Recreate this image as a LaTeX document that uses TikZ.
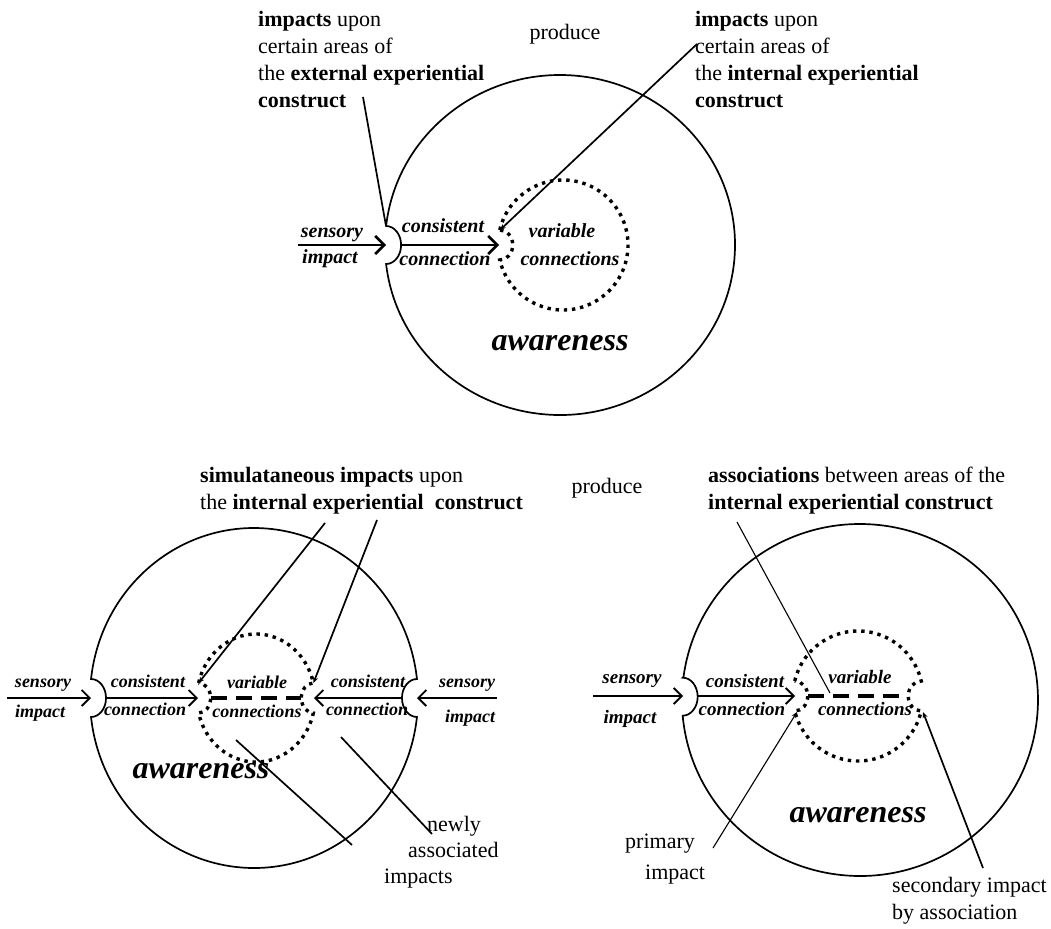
\documentclass[tikz,border=0pt]{standalone}
\usepackage{fontspec}
\setmainfont{Liberation Serif}
\usetikzlibrary{arrows.meta}
\begin{document}
\begin{tikzpicture}[x=1pt,y=-1pt,
  ring/.style={line width=1.7pt},
  dotring/.style={line width=3.4pt, dash pattern=on 3.4pt off 4.8pt},
  dashlink/.style={line width=4pt, dash pattern=on 16pt off 9pt},
  bigarrow/.style={line width=2.6pt, -{Straight Barb[length=9pt,width=18pt]}},
  smallarrow/.style={line width=1.8pt, -{Straight Barb[length=8pt,width=16pt]}},
  lead/.style={line width=1.7pt},
  thinlead/.style={line width=1.1pt},
  leadtip/.style={-{Stealth[length=6pt,width=5pt]}},
  lbl/.style={font=\fontsize{22}{27}\selectfont, align=left, anchor=base west, inner sep=0pt},
  plain/.style={font=\fontsize{22}{27}\selectfont, anchor=base, inner sep=0pt},
  wordA/.style={font=\fontsize{20}{24}\selectfont\bfseries\itshape, anchor=base, inner sep=0pt},
  wordB/.style={font=\fontsize{18}{22}\selectfont\bfseries\itshape, anchor=base, inner sep=0pt},
  wordC/.style={font=\fontsize{19}{23}\selectfont\bfseries\itshape, anchor=base, inner sep=0pt},
  aware/.style={font=\fontsize{32}{38}\selectfont\bfseries\itshape, anchor=base, inner sep=0pt}
]
\useasboundingbox (0,0) rectangle (1051,928);

% ---------------- upper figure ----------------
\draw[ring] (386.1,226) arc[start angle=186.42, end angle=533.58, x radius=175, y radius=170]
  arc[start angle=90, end angle=-90, x radius=15, y radius=19] -- cycle;
\draw[dotring] (499.75,230) arc[start angle=193.34, end angle=526.66, radius=65]
  arc[start angle=90, end angle=-90, x radius=13, y radius=15] -- cycle;

\coordinate (tS0) at (298,245);
\coordinate (tS1) at (386,245);
\coordinate (tC0) at (402,245);
\coordinate (tC1) at (499,245);
\draw[bigarrow] (tS0) -- (tS1);
\draw[bigarrow] (tC0) -- (tC1);

\node[wordA] (tsens) at (332,237) {sensory};
\node[wordA] (timp)  at (330,263) {impact};
\node[wordA] (tcons) at (443,232) {consistent};
\node[wordA] (tconn) at (445,265) {connection};
\node[wordA] (tvar)  at (562,237) {variable};
\node[wordA] (tvars) at (570,265) {connections};
\node[aware] (taw)   at (560,350) {awareness};

% multi-line labels are placed by the baseline of their last line
\node[plain] (tprod) at (565,40) {produce};
\node[lbl] (tlabL) at (258,108) {\textbf{impacts} upon\\certain areas of\\the \textbf{external experiential}\\\textbf{construct}};
\node[lbl] (tlabR) at (695,108) {\textbf{impacts} upon\\certain areas of\\the \textbf{internal experiential}\\\textbf{construct}};

\coordinate (tLa) at (363,97);
\coordinate (tLb) at (386,226);
\coordinate (tRa) at (697,44);
\coordinate (tRb) at (500,230);
\draw[lead] (tLa) -- (tLb);
\draw[lead,leadtip] (tRa) -- (tRb);

% ---------------- lower left figure ----------------
\draw[ring] (91.03,679) arc[start angle=186.42, end angle=353.58, x radius=164, y radius=170]
  arc[start angle=270, end angle=90, x radius=15, y radius=19]
  arc[start angle=6.42, end angle=173.58, x radius=164, y radius=170]
  arc[start angle=90, end angle=-90, x radius=15, y radius=19] -- cycle;
\draw[dotring] (198.64,683) arc[start angle=193.55, end angle=346.45, x radius=59, y radius=64]
  arc[start angle=270, end angle=90, x radius=12, y radius=15]
  arc[start angle=13.55, end angle=166.45, x radius=59, y radius=64]
  arc[start angle=90, end angle=-90, x radius=12, y radius=15] -- cycle;
\coordinate (lD0) at (211,698);
\coordinate (lD1) at (301,698);
\draw[dashlink] (lD0) -- (lD1);

\coordinate (lS0) at (7,698);
\coordinate (lS1) at (91,698);
\coordinate (lC0) at (106,698);
\coordinate (lC1) at (198,698);
\coordinate (rC0) at (402,698);
\coordinate (rC1) at (314,698);
\coordinate (rS0) at (497,698);
\coordinate (rS1) at (417,698);
\draw[smallarrow] (lS0) -- (lS1);
\draw[smallarrow] (lC0) -- (lC1);
\draw[smallarrow] (rC0) -- (rC1);
\draw[smallarrow] (rS0) -- (rS1);

\node[wordB] (lsensL) at (43,687) {sensory};
\node[wordB] (limpL)  at (40,717) {impact};
\node[wordB] (lconsL) at (148,687) {consistent};
\node[wordB] (lconnL) at (145,715) {connection};
\node[wordB] (lvar)   at (257,688) {variable};
\node[wordB] (lvars)  at (257,717) {connections};
\node[wordB] (lconsR) at (368,687) {consistent};
\node[wordB] (lconnR) at (367,715) {connection};
\node[wordB] (lsensR) at (467,687) {sensory};
\node[wordB] (limpR)  at (470,722) {impact};
\node[aware] (law)    at (201,778) {awareness};

\node[lbl] (llab) at (200,509) {\textbf{simulataneous impacts} upon\\the \textbf{internal experiential\ \ construct}};
\node[plain] (lprod) at (607,493) {produce};
\node[font=\fontsize{22}{26}\selectfont, align=left, anchor=base west, inner sep=0pt] (lnew) at (384,883)
  {\hspace*{43pt}newly\\\hspace*{24pt}associated\\impacts};

\coordinate (lLa) at (325,523);
\coordinate (lLb) at (198.6,683);
\coordinate (lRa) at (377,520);
\coordinate (lRb) at (313.4,683);
\draw[lead,leadtip] (lLa) -- (lLb);
\draw[lead,leadtip] (lRa) -- (lRb);
\coordinate (lNa) at (236,740);
\coordinate (lNb) at (352,845);
\coordinate (lMa) at (341,737);
\coordinate (lMb) at (432,834);
\draw[lead] (lNa) -- (lNb);
\draw[lead] (lMa) -- (lMb);

% ---------------- lower right figure ----------------
\draw[ring] (683.5,677) arc[start angle=187.51, end angle=534.89, x radius=178, y radius=176]
  arc[start angle=90, end angle=-90, x radius=15, y radius=19] -- cycle;
\draw[dotring] (794.75,681) arc[start angle=193.34, end angle=346.66, radius=65]
  arc[start angle=270, end angle=90, x radius=13, y radius=15]
  arc[start angle=13.34, end angle=166.66, radius=65]
  arc[start angle=90, end angle=-90, x radius=13, y radius=15] -- cycle;
\coordinate (bD0) at (808,696);
\coordinate (bD1) at (908,696);
\draw[dashlink] (bD0) -- (bD1);

\coordinate (bS0) at (593,696);
\coordinate (bS1) at (683,696);
\coordinate (bC0) at (698,696);
\coordinate (bC1) at (795,696);
\draw[smallarrow] (bS0) -- (bS1);
\draw[smallarrow] (bC0) -- (bC1);

\node[wordC] (bsens) at (632,683) {sensory};
\node[wordC] (bimp)  at (630,723) {impact};
\node[wordC] (bcons) at (745,687) {consistent};
\node[wordC] (bconn) at (742,715) {connection};
\node[wordC] (bvar)  at (860,683) {variable};
\node[wordC] (bvars) at (865,715) {connections};
\node[aware] (baw)   at (858,822) {awareness};

\node[lbl] (blab) at (708,509) {\textbf{associations} between areas of the\\\textbf{internal experiential construct}};
\node[font=\fontsize{22}{31}\selectfont, align=left, anchor=base west, inner sep=0pt] (bprim) at (625,879)
  {primary\\\hspace*{20pt}impact};
\node[lbl] (bsec) at (892,919) {secondary impact\\by association};

\coordinate (bAa) at (737,522);
\coordinate (bAb) at (830,693);
\coordinate (bPa) at (713,848);
\coordinate (bPb) at (797,712);
\coordinate (bQa) at (983,868);
\coordinate (bQb) at (923,712);
\draw[thinlead] (bAa) -- (bAb);
\draw[thinlead,leadtip] (bPa) -- (bPb);
\draw[lead,leadtip] (bQa) -- (bQb);
\end{tikzpicture}
\end{document}
